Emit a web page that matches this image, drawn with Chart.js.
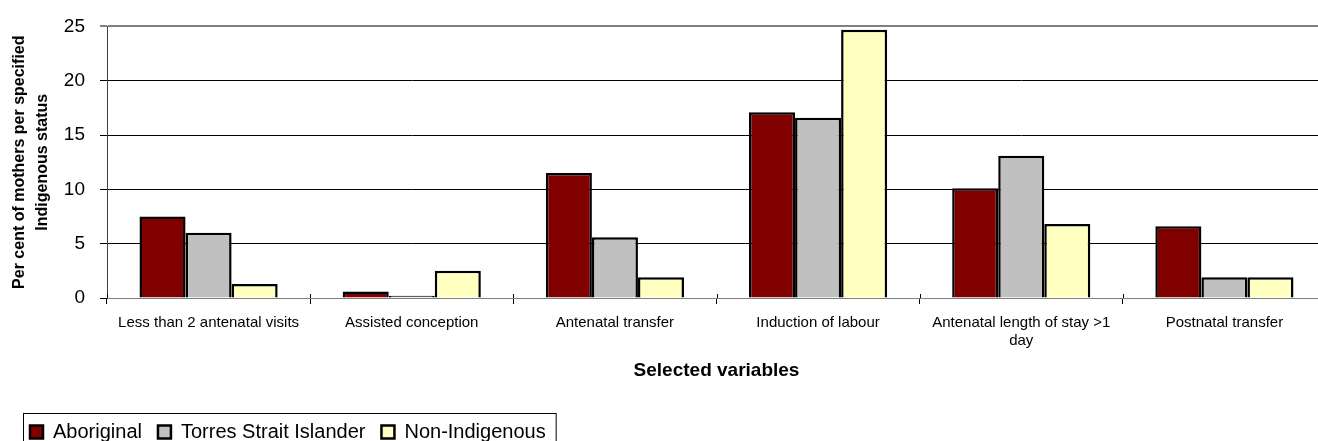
<!DOCTYPE html>
<html>
<head>
<meta charset="utf-8">
<script src="https://cdn.jsdelivr.net/npm/chart.js@4/dist/chart.umd.min.js"></script>
<style>
  html, body { margin: 0; padding: 0; background: #fff; overflow: hidden; }
  #wrap { width: 1326px; height: 452px; }
</style>
</head>
<body>
<div id="wrap"><canvas id="c" width="1326" height="452"></canvas></div>
<script>
const categories = [
  'Less than 2 antenatal visits',
  'Assisted conception',
  'Antenatal transfer',
  'Induction of labour',
  ['Antenatal length of stay >1', 'day'],
  'Postnatal transfer'
];
const seriesNames = ['Aboriginal', 'Torres Strait Islander', 'Non-Indigenous'];
const aboriginal = [7.5, 0.6, 11.5, 17.1, 10.1, 6.6];
const torresStrait = [6.0, 0.2, 5.6, 16.6, 13.1, 1.9];
const nonIndigenous = [1.3, 2.5, 1.9, 24.7, 6.8, 1.9];
const yTicks = [0, 5, 10, 15, 20, 25];

const FONT = "'Liberation Sans', Arial, Helvetica, sans-serif";
const colors = ['#800000', '#C0C0C0', '#FFFFC0'];

const legendBorder = {
  id: 'legendBorder',
  afterDraw(chart) {
    const lg = chart.legend;
    if (!lg || !lg.legendHitBoxes || !lg.legendHitBoxes.length) return;
    const boxes = lg.legendHitBoxes;
    const first = boxes[0];
    const last = boxes[boxes.length - 1];
    const ctx = chart.ctx;
    ctx.save();
    ctx.strokeStyle = '#000';
    ctx.lineWidth = 1;
    const left = first.left - 6.5;
    const right = last.left + last.width + 10.5;
    const top = 413.5;
    ctx.strokeRect(left, top, right - left, 60);
    ctx.restore();
  }
};

// Draw small tick marks crossing the x axis at the category boundaries (above the axis part)
const xTickCross = {
  id: 'xTickCross',
  afterDatasetsDraw(chart) {
    const x = chart.scales.x;
    const ctx = chart.ctx;
    ctx.save();
    ctx.strokeStyle = '#000';
    ctx.lineWidth = 1;
    const n = x.ticks.length;
    for (let i = 0; i <= n; i++) {
      const px = Math.round(x.getPixelForTick(0) + (i - 0.5) * (x.getPixelForTick(1) - x.getPixelForTick(0))) + 0.5;
      ctx.beginPath();
      ctx.moveTo(px, x.top - 4);
      ctx.lineTo(px, x.top);
      ctx.stroke();
    }
    ctx.restore();
  }
};

new Chart(document.getElementById('c'), {
  type: 'bar',
  data: {
    labels: categories,
    datasets: [
      { label: seriesNames[0], data: aboriginal, backgroundColor: colors[0], borderColor: '#000', borderWidth: 2.5 },
      { label: seriesNames[1], data: torresStrait, backgroundColor: colors[1], borderColor: '#000', borderWidth: 2.5 },
      { label: seriesNames[2], data: nonIndigenous, backgroundColor: colors[2], borderColor: '#000', borderWidth: 2.5 }
    ]
  },
  options: {
    responsive: false,
    animation: false,
    layout: { padding: { left: 14, top: 24, right: 0, bottom: 0 } },
    datasets: { bar: { categoryPercentage: 0.68, barPercentage: 1.0, borderSkipped: 'start' } },
    plugins: {
      tooltip: { enabled: false },
      legend: {
        position: 'bottom',
        align: 'start',
        labels: {
          color: '#000',
          font: { family: FONT, size: 20 },
          boxWidth: 13,
          boxHeight: 13,
          padding: 16
        }
      }
    },
    scales: {
      x: {
        afterFit(scale) { scale.height = 108; },
        grid: { drawOnChartArea: false, drawTicks: true, tickLength: 6, color: '#000', offset: true },
        border: { display: true, color: '#808080', width: 1 },
        ticks: { color: '#000', font: { family: FONT, size: 15 }, maxRotation: 0, minRotation: 0, autoSkip: false, padding: 10 },
        title: {
          display: true,
          text: 'Selected variables',
          color: '#000',
          font: { family: FONT, size: 19, weight: 'bold' },
          padding: { top: 0, bottom: 24 }
        }
      },
      y: {
        min: 0,
        max: 25,
        afterFit(scale) { scale.width = 93; },
        afterBuildTicks(scale) { scale.ticks = yTicks.map(v => ({ value: v })); },
        grid: {
          color: (c) => (c.tick && c.tick.value === 25 ? '#808080' : '#000'),
          lineWidth: (c) => (c.tick && c.tick.value === 25 ? 2 : 1),
          tickLength: 7
        },
        border: { display: true, color: '#404040', width: 1 },
        ticks: { color: '#000', font: { family: FONT, size: 19 }, padding: 15 },
        title: {
          display: true,
          text: ['Per cent of mothers per specified', 'Indigenous status'],
          color: '#000',
          font: { family: FONT, size: 16, weight: 'bold', lineHeight: 1.44 },
          padding: { top: -5.5, bottom: 0 }
        }
      }
    }
  },
  plugins: [legendBorder, xTickCross]
});
</script>
</body>
</html>
